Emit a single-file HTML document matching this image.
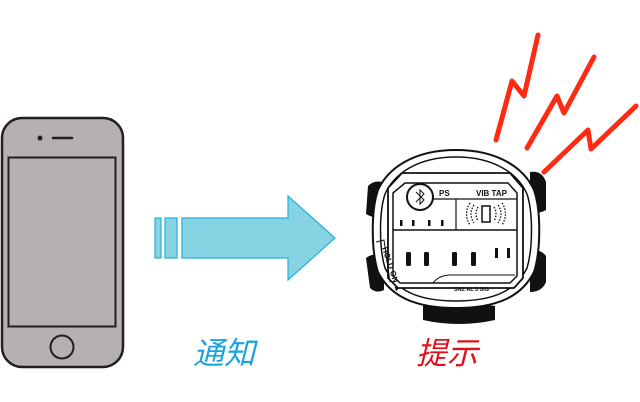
<!DOCTYPE html>
<html><head><meta charset="utf-8"><style>
html,body{margin:0;padding:0;background:#fff;}
svg{display:block}
.t{font-family:"Liberation Sans","Noto Sans CJK SC",sans-serif;font-weight:bold;}
.c{font-family:"Liberation Sans","Noto Sans CJK SC",sans-serif;font-weight:400;}
</style></head><body>
<svg width="640" height="402" viewBox="0 0 640 402" xmlns="http://www.w3.org/2000/svg">
<rect x="2" y="118" width="121" height="249" rx="20" fill="#b5b1b0" stroke="#231f20" stroke-width="2.5"/>
<rect x="8.5" y="157.5" width="107" height="169" fill="#b5b1b0" stroke="#231f20" stroke-width="2"/>
<circle cx="40" cy="138" r="2.5" fill="#231f20"/>
<line x1="53" y1="138" x2="72" y2="138" stroke="#231f20" stroke-width="2.5" stroke-linecap="round"/>
<circle cx="62" cy="347" r="11.5" fill="#b5b1b0" stroke="#231f20" stroke-width="2"/>
<g fill="#86d3e4" stroke="#29aed6" stroke-width="1.2">
<rect x="155" y="218" width="6" height="40"/>
<rect x="165" y="218" width="12" height="40"/>
<polygon points="182,218 288,218 288,196 335,238 288,280 288,258 182,258"/>
</g>
<g fill="none" stroke="#ff2a12" stroke-width="5" stroke-linecap="round" stroke-linejoin="round">
<polyline points="496,140 512,81 524,96 538,35"/>
<polyline points="527,148 557,96 564,113 594,57"/>
<polyline points="544,172 588,130 591,149 636,106"/>
</g>
<g fill="#111">
<path d="M368,186 q6,-6 14,-4 l2,34 q-8,4 -18,-2 z"/>
<path d="M366,258 q8,-6 18,-2 l0,34 q-8,4 -14,-2 z"/>
<path d="M530,172 q12,-2 16,10 l0,28 q-6,4 -16,2 z"/>
<path d="M530,252 q10,-4 16,4 l0,26 q-4,10 -16,10 z"/>
<path d="M423,306 q36,-6 72,0 l0,14 q-36,8 -72,0 z"/>
</g>
<path d="M456,150 C498,150 524,168 534,190 C541,210 541,250 534,272 C522,296 498,308 456,308 C414,308 390,296 378,272 C371,250 371,210 378,190 C388,168 414,150 456,150 Z" fill="#fff" stroke="#111" stroke-width="2"/>
<path d="M456,157 C495,157 518,174 527,194 C533,212 533,248 527,268 C516,290 495,301 456,301 C417,301 396,290 385,268 C379,248 379,212 385,194 C394,174 417,157 456,157 Z" fill="#fff" stroke="#111" stroke-width="1.5"/>
<path d="M402,173 L510,173 L523,188 L523,278 L514,288 L398,288 L388,278 L388,188 Z" fill="#fff" stroke="#111" stroke-width="1.8"/>
<path d="M405,183 L508,183 L517,193 L517,276 L510,283 L400,283 L393,276 L393,193 Z" fill="#fff" stroke="#111" stroke-width="1.5"/>
<line x1="393" y1="230" x2="517" y2="230" stroke="#111" stroke-width="1.5"/>
<line x1="456" y1="199" x2="456" y2="230" stroke="#111" stroke-width="1.2"/>
<line x1="425" y1="199" x2="517" y2="199" stroke="#111" stroke-width="1.2"/>
<circle cx="420" cy="197" r="13" fill="#fff" stroke="#111" stroke-width="2"/>
<path d="M416,192 l8,8 l-4,4 l0,-14 l4,4 l-8,8" fill="none" stroke="#111" stroke-width="1"/>
<text x="439" y="196" class="t" font-size="8" fill="#111">PS</text>
<text x="476" y="196" class="t" font-size="8" fill="#111">VIB TAP</text>
<rect x="482" y="206" width="8" height="16" fill="none" stroke="#111" stroke-width="1.5"/>
<g fill="none" stroke="#111" stroke-width="1.3" stroke-dasharray="1.5,1.5">
<path d="M478,207 q-4,7 0,14"/><path d="M474,205 q-6,9 0,18"/><path d="M470,203 q-7,11 0,22"/>
<path d="M494,207 q4,7 0,14"/><path d="M498,205 q6,9 0,18"/><path d="M502,203 q7,11 0,22"/>
</g>
<g fill="#111">
<rect x="400" y="220" width="2.5" height="6"/><rect x="412" y="220" width="2.5" height="6"/><rect x="428" y="220" width="2.5" height="6"/><rect x="441" y="220" width="2.5" height="6"/>
<rect x="406" y="252" width="5" height="14" rx="1.5"/><rect x="424" y="252" width="5" height="14" rx="1.5"/><rect x="452" y="252" width="5" height="14" rx="1.5"/><rect x="471" y="252" width="5" height="14" rx="1.5"/>
<rect x="495" y="248" width="3" height="10"/><rect x="507" y="248" width="3" height="10"/>
</g>
<path d="M433,283 q6,-8 18,-8 l64,0" fill="none" stroke="#111" stroke-width="1"/>
<text x="454" y="291" class="t" font-size="5.5" fill="#111">SNZ  AL'3  SIG</text>
<text transform="translate(382,248) rotate(72)" class="t" font-size="8" fill="#111">HOLD ON ▲</text>
<path d="M376,242 l8,-2 l6,42" fill="none" stroke="#111" stroke-width="1"/>
<text x="193" y="364" class="c" font-size="31" fill="#1aa3de" font-style="italic">通知</text>
<text x="416" y="364" class="c" font-size="31" fill="#e2101a" font-style="italic">提示</text>
</svg>
</body></html>
